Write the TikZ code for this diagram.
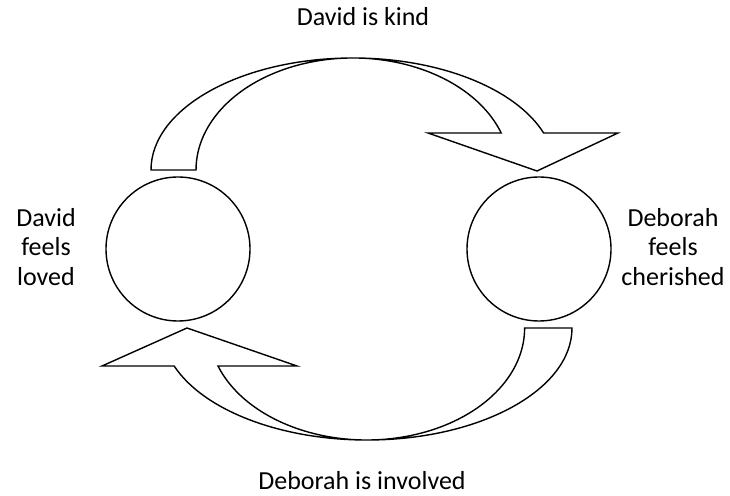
\documentclass[tikz,border=0pt]{standalone}
\usepackage{fontspec}
\setmainfont{Carlito}
\begin{document}
\begin{tikzpicture}[x=1pt,y=1pt,
  shapeline/.style={draw=black,line width=1.4pt,line join=miter,fill=white},
  lbl/.style={font=\fontsize{26}{29.5}\selectfont,inner sep=0pt,align=center},
  circ/.style={circle,draw=black,line width=1.4pt,minimum size=144pt,inner sep=0pt}]
\useasboundingbox (0,0) rectangle (730,495);
% circles
\node[circ] (left) at (178,246) {};
\node[circ] (right) at (539,246) {};
% top curved arrow
\draw[shapeline] (151,325) arc[start angle=180,end angle=19.29,x radius=202,y radius=112]
  -- (618,362) -- (537,324) -- (428,362) -- (501.2,362)
  arc[start angle=19.29,end angle=180,x radius=157,y radius=112] -- cycle;
% bottom curved arrow
\draw[shapeline] (572,167) arc[start angle=0,end angle=-160.16,x radius=205,y radius=112]
  -- (102,129) -- (187,167) -- (297,129) -- (218,129)
  arc[start angle=-160.16,end angle=0,x radius=158,y radius=112] -- cycle;
% labels
\node[lbl,anchor=base] (top) at (363,469) {David is kind};
\node[lbl,anchor=base] (bottom) at (362,6) {Deborah is involved};
\node[lbl,anchor=center] (ltext) at (46,248) {David\\feels\\loved};
\node[lbl,anchor=center] (rtext) at (673,248) {Deborah\\feels\\cherished};
\end{tikzpicture}
\end{document}
